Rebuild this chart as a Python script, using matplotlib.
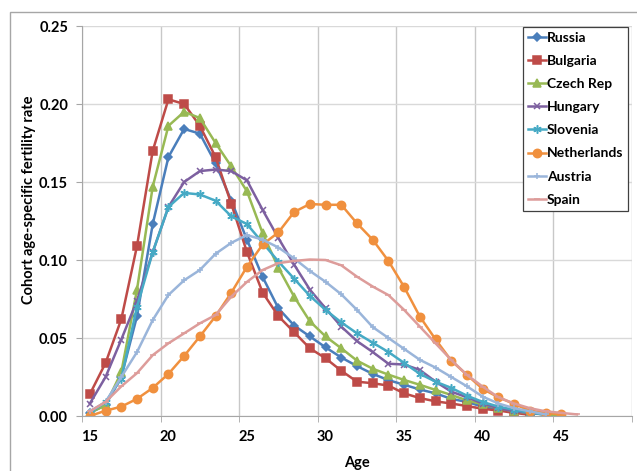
import numpy as np
import matplotlib
matplotlib.use('Agg')
import matplotlib.pyplot as plt
from matplotlib.patches import Rectangle

plt.rcParams['font.family'] = ['Lato', 'DejaVu Sans']

# cohort age-specific fertility rates, ages from 15 upward
russia = [0.002, 0.007, 0.025, 0.064, 0.123, 0.166, 0.184, 0.181, 0.162, 0.138,
          0.113, 0.089, 0.069, 0.058, 0.051, 0.044, 0.0375, 0.032, 0.027, 0.023,
          0.020, 0.017, 0.0145, 0.011, 0.009, 0.006, 0.004, 0.003, 0.002, 0.001]
bulgaria = [0.014, 0.034, 0.062, 0.109, 0.170, 0.203, 0.200, 0.186, 0.166, 0.136,
            0.105, 0.079, 0.064, 0.0537, 0.0434, 0.037, 0.029, 0.022, 0.021, 0.0195,
            0.0145, 0.0115, 0.0094, 0.008, 0.0064, 0.0046, 0.0035, 0.002, 0.0008]
czech = [0.002, 0.007, 0.028, 0.081, 0.147, 0.186, 0.195, 0.191, 0.175, 0.160,
         0.144, 0.117, 0.095, 0.0765, 0.0607, 0.051, 0.0434, 0.0355, 0.0303, 0.0265,
         0.0231, 0.020, 0.0167, 0.0135, 0.010, 0.0075, 0.005, 0.003, 0.0018, 0.001,
         0.0003]
hungary = [0.008, 0.025, 0.049, 0.074, 0.105, 0.134, 0.150, 0.157, 0.158, 0.157,
           0.151, 0.132, 0.114, 0.097, 0.081, 0.069, 0.0573, 0.048, 0.041, 0.0335,
           0.033, 0.0295, 0.022, 0.0156, 0.012, 0.008, 0.005, 0.003, 0.002, 0.001]
slovenia = [0.002, 0.009, 0.024, 0.070, 0.105, 0.134, 0.143, 0.142, 0.138, 0.128,
            0.123, 0.111, 0.099, 0.088, 0.077, 0.068, 0.060, 0.053, 0.047, 0.041,
            0.034, 0.027, 0.022, 0.018, 0.013, 0.009, 0.006, 0.004, 0.002, 0.001]
netherlands = [0.0, 0.0034, 0.006, 0.011, 0.018, 0.027, 0.0385, 0.051, 0.064, 0.079,
               0.0957, 0.110, 0.1177, 0.1308, 0.1359, 0.1354, 0.1354, 0.1235, 0.113, 0.0994,
               0.0827, 0.0637, 0.0491, 0.0355, 0.0263, 0.0173, 0.012, 0.0077, 0.0034, 0.002,
               0.001]
austria = [0.003, 0.009, 0.025, 0.041, 0.0615, 0.0776, 0.087, 0.0936, 0.104, 0.111,
           0.116, 0.113, 0.108, 0.101, 0.093, 0.086, 0.078, 0.068, 0.057, 0.050,
           0.043, 0.036, 0.031, 0.025, 0.019, 0.0124, 0.008, 0.005, 0.003, 0.001]
spain = [0.003, 0.009, 0.019, 0.0275, 0.039, 0.0466, 0.053, 0.0594, 0.0647, 0.0765,
         0.086, 0.0936, 0.098, 0.0994, 0.1003, 0.100, 0.0966, 0.0893, 0.083, 0.0775,
         0.068, 0.0573, 0.0466, 0.0359, 0.0263, 0.0188, 0.012, 0.008, 0.005, 0.003,
         0.002, 0.001]

asterisk = (6, 2, 0)
series = [
    ('Russia', russia, '#4A7EBB', 'D', 3.8),
    ('Bulgaria', bulgaria, '#BE4B48', 's', 5.5),
    ('Czech Rep', czech, '#98B954', '^', 5.5),
    ('Hungary', hungary, '#7D60A0', 'x', 5),
    ('Slovenia', slovenia, '#46AAC5', asterisk, 6),
    ('Netherlands', netherlands, '#F0903E', 'o', 6),
    ('Austria', austria, '#9AB5DA', '+', 5),
    ('Spain', spain, '#DD9C9A', '_', 4),
]

fig = plt.figure(figsize=(6.37, 4.71), dpi=100)
# chart frame
fig.patches.append(Rectangle((10 / 637, -0.1), 1.2, 1 - 12 / 471 + 0.1,
                             transform=fig.transFigure, fill=False,
                             edgecolor='#A6A6A6', linewidth=1.0))
ax = fig.add_axes([82 / 637, 1 - 416 / 471, 550 / 637, 390 / 471])

for name, vals, color, marker, ms in series:
    ages = np.arange(15, 15 + len(vals))
    ax.plot(ages, vals, color=color, linewidth=1.8, marker=marker,
            markersize=ms, markeredgewidth=1.1, label=name)

ax.set_xlim(14.5, 49.5)
ax.set_ylim(0, 0.25)
ax.set_xticks([15, 20, 25, 30, 35, 40, 45])
ax.set_xticks(np.arange(14.5, 50, 5), minor=True)
ax.set_yticks(np.arange(0, 0.26, 0.05))
ax.yaxis.set_major_formatter(matplotlib.ticker.FormatStrFormatter('%.2f'))
ax.grid(True, which='minor', axis='x', color='#C8C8C8', linewidth=1.0)
ax.grid(True, which='major', axis='y', color='#D9D9D9', linewidth=1.0)
ax.set_axisbelow(True)
ax.tick_params(axis='x', which='major', length=0, pad=10, labelsize=10.5)
ax.tick_params(axis='x', which='minor', length=4, color='#A6A6A6')
ax.tick_params(axis='y', length=4, color='#A6A6A6', pad=6, labelsize=10.5)
for lbl in ax.get_xticklabels() + ax.get_yticklabels():
    lbl.set_fontweight('bold')
for side in ['top', 'right']:
    ax.spines[side].set_visible(False)
for side in ['left', 'bottom']:
    ax.spines[side].set_color('#A6A6A6')

ax.set_xlabel('Age', fontsize=10.5, fontweight='bold', labelpad=9)
ax.set_ylabel('Cohort age-specific fertility rate', fontsize=10.5,
              fontweight='bold')
ax.yaxis.set_label_coords(-0.083, 0.555)

leg = ax.legend(loc='upper right', bbox_to_anchor=(628 / 637, 1 - 27 / 471),
                bbox_transform=fig.transFigure, fancybox=False, framealpha=1,
                edgecolor='#404040', borderpad=0.35, labelspacing=0.8,
                handlelength=1.3, handletextpad=0.05, borderaxespad=0,
                prop={'weight': 'bold', 'size': 10})
leg.get_frame().set_linewidth(0.9)

fig.savefig('out.png', dpi=100)
